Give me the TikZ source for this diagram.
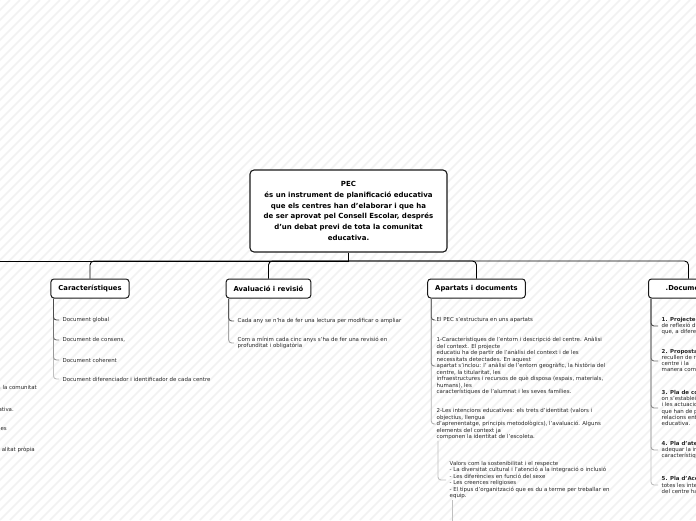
\documentclass[tikz,border=0pt]{standalone}
\usepackage{fontspec}
\setmainfont{DejaVu Sans}
\begin{document}
\begin{tikzpicture}[x=1pt,y=-1pt,
  mainbox/.style={draw=black!90,line width=1.1pt,rounded corners=4pt,fill=white,minimum width=197pt,minimum height=82pt,align=center,font=\bfseries\fontsize{7}{10.8}\selectfont,inner sep=0pt},
  topicbox/.style={draw=black!90,line width=1pt,rounded corners=3pt,fill=white,minimum height=19pt,inner xsep=7.5pt,inner ysep=0pt,font=\bfseries\fontsize{6.8}{7.5}\selectfont},
  leaf/.style={anchor=west,inner xsep=3.5pt,inner ysep=1pt,align=left,font=\fontsize{5.45}{6.5}\selectfont,text=black!85},
  trunk/.style={draw=black,line width=0.9pt,rounded corners=4pt},
  twig/.style={line width=0.9pt,rounded corners=3pt},
]
\useasboundingbox (0,0) rectangle (696,520);
\clip (0,0) rectangle (696,520);
\fill[white] (0,0) rectangle (696,520);
\foreach \k in {-530,-520,...,700} \draw[black!5,line width=1.6pt] (\k,520) -- (\k+520,0);

% central topic
\node[mainbox] (pec) at (348.5,211) {PEC\\és un instrument de planificació educativa\\que els centres han d’elaborar i que ha\\de ser aprovat pel Consell Escolar, després\\d’un debat previ de tota la comunitat\\educativa.};

\coordinate (bus) at (348.5,261);
\coordinate (lend) at (-20,261);

% main topics
\node[topicbox] (car) at (90,288.5) {Característiques};
\node[topicbox] (ava) at (268.5,288.5) {Avaluació i revisió};
\node[topicbox] (apa) at (476.5,288.5) {Apartats i documents};
\node[topicbox,anchor=west,minimum width=80pt] (doc) at (648,288.5) {.Documents\hspace{30pt}};

\draw[trunk] (pec.south) -- (bus);
\draw[trunk] (bus) -- (lend);
\draw[trunk] (bus) -| (car.north);
\draw[trunk] (bus) -| (ava.north);
\draw[trunk] (bus) -| (apa.north);
\draw[trunk] (bus) -| (doc.north);

% left cut-off texts
\node[leaf,anchor=east,inner xsep=0pt] (l1) at (37,387) {a la comunitat};
\node[leaf,anchor=east,inner xsep=0pt] (l2) at (14,409) {ativa.};
\node[leaf,anchor=east,inner xsep=0pt] (l3) at (7,429) {es};
\node[leaf,anchor=east,inner xsep=0pt] (l4) at (35,450) {alitat pròpia};

% Caracteristiques
\node[leaf] (c1) at (59,320) {Document global};
\node[leaf] (c2) at (59,340) {Document de consens,};
\node[leaf] (c3) at (59,360) {Document coherent};
\node[leaf] (c4) at (59,379) {Document diferenciador i identificador de cada centre};
\draw[twig,black!25] ([xshift=3pt]car.south west) |- (c4.west);
\draw[twig,black!40] ([xshift=3pt]car.south west) |- (c3.west);
\draw[twig,black!55] ([xshift=3pt]car.south west) |- (c2.west);
\draw[twig,black!70] ([xshift=3pt]car.south west) |- (c1.west);

% Avaluacio
\node[leaf] (a1) at (234,321) {Cada any se n'ha de fer una lectura per modificar o ampliar};
\node[leaf,font=\fontsize{5.45}{6}\selectfont] (a2) at (234,343) {Com a mínim cada cinc anys s'ha de fer una revisió en\\profunditat i obligatòria};
\draw[twig,black!35] ([xshift=3pt]ava.south west) |- (a2.west);
\draw[twig,black!65] ([xshift=3pt]ava.south west) |- (a1.west);

% Apartats
\node[leaf] (p1) at (433,320) {El PEC s'estructura en uns apartats};
\node[leaf] (p2) at (433,366) {1-Característiques de l'entorn i descripció del centre. Anàlisi\\del context. El projecte\\educatiu ha de partir de l'anàlisi del context i de les\\necessitats detectades. En aquest\\apartat s'inclou: l' anàlisi de l'entorn geogràfic, la història del\\centre, la titularitat, les\\infraestructures i recursos de què disposa (espais, materials,\\humans), les\\característiques de l'alumnat i les seves famílies.};
\node[leaf] (p3) at (433,424) {2-Les intencions educatives: els trets d'identitat (valors i\\objectius, llengua\\d'aprenentatge, principis metodològics), l'avaluació. Alguns\\elements del context ja\\componen la identitat de l'escoleta.};
\node[leaf] (p4) at (446,480) {Valors com la sostenibilitat i el respecte\\- La diversitat cultural i l'atenció a la integració o inclusió\\- Les diferències en funció del sexe\\- Les creences religioses\\- El tipus d'organització que es du a terme per treballar en\\equip.};
\coordinate (p5) at (452,530);
\draw[twig,black!30] ([xshift=4pt]apa.south west) |- (p3.west);
\draw[twig,black!45] ([xshift=4pt]apa.south west) |- (p2.west);
\draw[twig,black!65] ([xshift=4pt]apa.south west) |- (p1.west);
\draw[twig,black!25] ([xshift=5pt]p3.south west) |- (p4.west);
\draw[twig,black!25] (p5 |- p4.south) -- (p5);

% Documents
\node[leaf,font=\fontsize{5.45}{6}\selectfont] (d1) at (658,326) {{\bfseries 1. Projecte d}\\de reflexió d\\que, a diferen};
\node[leaf,font=\fontsize{5.45}{6}\selectfont] (d2) at (658,361) {{\bfseries 2. Proposta}\\recullen de r\\centre i la\\manera com};
\node[leaf,font=\fontsize{5.45}{6.3}\selectfont] (d3) at (658,408) {{\bfseries 3. Pla de co}\\on s'establei\\i les actuacio\\que han de p\\relacions ent\\educativa.};
\node[leaf,font=\fontsize{5.45}{6}\selectfont] (d4) at (658,450) {{\bfseries 4. Pla d'ate}\\adequar la in\\característiq};
\node[leaf,font=\fontsize{5.45}{6.3}\selectfont] (d5) at (658,485) {{\bfseries 5. Pla d'Acc}\\totes les inte\\del centre ha};
\draw[twig,black!25] ([xshift=3pt]doc.south west) |- (d5.west);
\draw[twig,black!35] ([xshift=3pt]doc.south west) |- (d4.west);
\draw[twig,black!45] ([xshift=3pt]doc.south west) |- (d3.west);
\draw[twig,black!55] ([xshift=3pt]doc.south west) |- (d2.west);
\draw[twig,black!70] ([xshift=3pt]doc.south west) |- (d1.west);
\end{tikzpicture}
\end{document}
